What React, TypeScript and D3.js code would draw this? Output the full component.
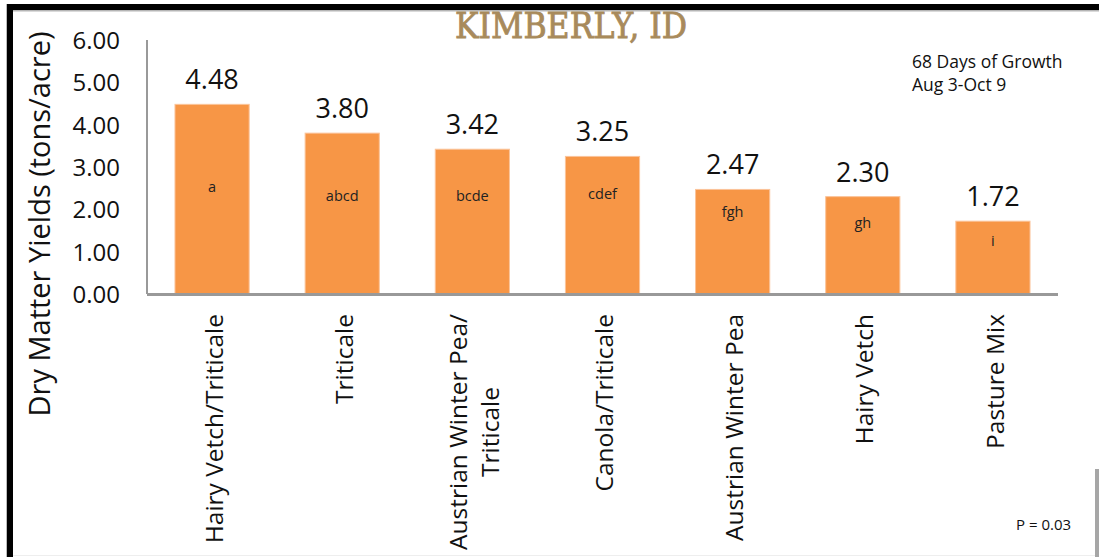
import React, { useEffect, useRef } from "react";
import * as d3 from "d3";

const categories = [
  "Hairy Vetch/Triticale",
  "Triticale",
  "Austrian Winter Pea/\nTriticale",
  "Canola/Triticale",
  "Austrian Winter Pea",
  "Hairy Vetch",
  "Pasture Mix",
];
const yields = [4.48, 3.8, 3.42, 3.25, 2.47, 2.3, 1.72];
const letters = ["a", "abcd", "bcde", "cdef", "fgh", "gh", "i"];
// height (in tons/acre) at which each significance letter sits
const letterAt = [2.42, 2.2, 2.2, 2.24, 1.83, 1.57, 1.13];
const yTicks = [0, 1, 2, 3, 4, 5, 6];

const W = 1099;
const H = 557;
const FONT = "'Open Sans', 'Noto Sans', sans-serif";

export default function App() {
  const ref = useRef<SVGSVGElement | null>(null);

  useEffect(() => {
    const svg = d3.select(ref.current);
    svg.selectAll("*").remove();

    const left = 147;
    const right = 1058;
    const top = 40;
    const bottom = 294;

    const x = d3.scaleBand<string>().domain(categories).range([left, right]).paddingInner(0.43).paddingOuter(0.215);
    const y = d3.scaleLinear().domain([0, 6]).range([bottom, top]);

    svg.append("rect").attr("width", W).attr("height", H).attr("fill", "#ffffff");

    // frame pieces
    svg.append("rect").attr("x", 7).attr("y", 4).attr("width", W - 7).attr("height", 6).attr("fill", "#000");
    svg.append("rect").attr("x", 13).attr("y", 10).attr("width", W - 13).attr("height", 1.5).attr("fill", "#b5b5b5");
    svg.append("rect").attr("x", 7).attr("y", 4).attr("width", 6).attr("height", H - 4).attr("fill", "#000");
    svg.append("rect").attr("x", 6).attr("y", 4).attr("width", 1).attr("height", H - 4).attr("fill", "#bbb");
    svg.append("rect").attr("x", 1095).attr("y", 469).attr("width", 4).attr("height", H - 469).attr("fill", "#a6a6a6");
    svg.append("rect").attr("x", 13).attr("y", 555).attr("width", 1082).attr("height", 1).attr("fill", "#eeeeee");

    // title
    svg
      .append("text")
      .attr("x", 571)
      .attr("y", 38)
      .attr("text-anchor", "middle")
      .attr("font-family", "'DejaVu Serif', serif")
      .attr("font-size", 36)
      .attr("textLength", 232)
      .attr("lengthAdjust", "spacingAndGlyphs")
      .attr("fill", "#a88a5b")
      .attr("stroke", "#a88a5b")
      .attr("stroke-width", 0.9)
      .text("KIMBERLY, ID");

    // bars
    svg
      .append("g")
      .selectAll("rect")
      .data(yields)
      .join("rect")
      .attr("x", (_, i) => x(categories[i])!)
      .attr("width", x.bandwidth())
      .attr("y", (d) => y(d))
      .attr("height", (d) => y(0) - y(d))
      .attr("fill", "#f79646")
      .attr("stroke", "#fbc49a")
      .attr("stroke-width", 1);

    // axes lines
    svg.append("line").attr("x1", left).attr("x2", left).attr("y1", y(6)).attr("y2", y(0)).attr("stroke", "#999").attr("stroke-width", 2);
    svg.append("line").attr("x1", left).attr("x2", right).attr("y1", y(0) + 0.5).attr("y2", y(0) + 0.5).attr("stroke", "#999").attr("stroke-width", 3);

    // y tick labels
    svg
      .append("g")
      .selectAll("text")
      .data(yTicks)
      .join("text")
      .attr("x", 120)
      .attr("y", (d) => y(d) + 9)
      .attr("text-anchor", "end")
      .attr("font-family", FONT)
      .attr("font-size", 24)
      .attr("fill", "#111")
      .text((d) => d3.format(".2f")(d));

    // y title
    svg
      .append("text")
      .attr("transform", `translate(50, 224) rotate(-90)`)
      .attr("text-anchor", "middle")
      .attr("font-family", FONT)
      .attr("font-size", 29)
      .attr("fill", "#111")
      .text("Dry Matter Yields (tons/acre)");

    // value labels
    svg
      .append("g")
      .selectAll("text")
      .data(yields)
      .join("text")
      .attr("x", (_, i) => x(categories[i])! + x.bandwidth() / 2)
      .attr("y", (d) => y(d) - 15)
      .attr("text-anchor", "middle")
      .attr("font-family", FONT)
      .attr("font-size", 27)
      .attr("fill", "#111")
      .text((d) => d3.format(".2f")(d));

    // letters
    svg
      .append("g")
      .selectAll("text")
      .data(letters)
      .join("text")
      .attr("x", (_, i) => x(categories[i])! + x.bandwidth() / 2)
      .attr("y", (_, i) => y(letterAt[i]))
      .attr("text-anchor", "middle")
      .attr("font-family", FONT)
      .attr("font-size", 14.5)
      .attr("fill", "#222")
      .text((d) => d);

    // category labels (rotated)
    const catG = svg.append("g");
    categories.forEach((c) => {
      const lines = c.split("\n");
      const cx = x(c)! + x.bandwidth() / 2 + 2;
      const g = catG.append("g");
      const texts = lines.map((ln) =>
        g
          .append("text")
          .attr("font-family", FONT)
          .attr("font-size", 24.5)
          .attr("fill", "#111")
          .attr("text-anchor", "middle")
          .attr("dy", "0.35em")
          .text(ln)
      );
      const maxLen = d3.max(texts, (t) => (t.node() as SVGTextElement).getComputedTextLength()) || 0;
      const cyc = 314 + maxLen / 2;
      const lh = 32;
      texts.forEach((t, li) => {
        const off = (li - (lines.length - 1) / 2) * lh;
        t.attr("transform", `translate(${cx + off}, ${cyc}) rotate(-90)`);
      });
    });

    // annotation
    svg
      .append("text")
      .attr("x", 912)
      .attr("y", 68)
      .attr("font-family", FONT)
      .attr("font-size", 17.5)
      .attr("fill", "#111")
      .text("68 Days of Growth");
    svg
      .append("text")
      .attr("x", 912)
      .attr("y", 91)
      .attr("font-family", FONT)
      .attr("font-size", 17.5)
      .attr("fill", "#111")
      .text("Aug 3-Oct 9");
    svg
      .append("text")
      .attr("x", 1016)
      .attr("y", 530)
      .attr("font-family", FONT)
      .attr("font-size", 15)
      .attr("fill", "#111")
      .text("P = 0.03");
  }, []);

  return (
    <svg
      ref={ref}
      width={W}
      height={H}
      style={{ position: "absolute", left: 0, top: 0, display: "block" }}
    />
  );
}
